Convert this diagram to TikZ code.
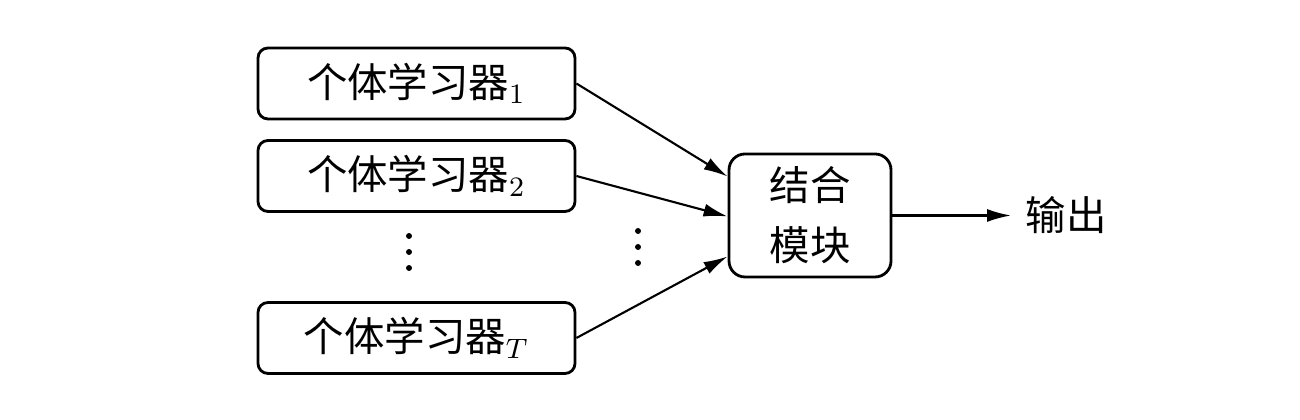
\documentclass[tikz,border=0pt]{standalone}
\usepackage{fontspec}
\newfontfamily\cjk{Noto Sans CJK SC}
\usepackage{tikz}
\usetikzlibrary{calc,arrows.meta}

\begin{document}
\begin{tikzpicture}[
    learner/.style={draw,line width=0.8pt,rounded corners=1mm,minimum width=3.17cm,minimum height=0.71cm,inner sep=0pt},
    combiner/.style={draw,line width=0.8pt,rounded corners=1.6mm,minimum width=1.62cm,minimum height=1.23cm,align=center,inner sep=0pt},
    flow/.style={line width=0.6pt,-{Latex[length=2.4mm,width=1.3mm]}},
    every node/.style={font=\fontsize{11.5}{16}\selectfont}]
    \useasboundingbox (0,0) rectangle (13,4.2);
    \def\bx{4.165}
    \foreach \y/\k in{3.365/1,2.44/2,0.82/T}{
            \node[learner](L\k) at (\bx,\y) {{\cjk 个体学习器}$_{\k}$};
        }
    \node[combiner](C) at (8.1,2.045) {{\cjk 结合}\\[1pt]{\cjk 模块}};
    \node[anchor=west,inner sep=1.4mm](out) at (10.11,2.045) {\cjk 输出};
    \coordinate (C1) at ($(C.west)+(0,0.39)$);
    \coordinate (C2) at ($(C.west)+(0,-0.01)$);
    \coordinate (C3) at ($(C.west)+(0,-0.41)$);
    \draw[flow] (L1.east)--(C1);
    \draw[flow] (L2.east)--(C2);
    \draw[flow] (LT.east)--(C3);
    \draw[flow] (C.east)--(out.west);
    \foreach \x/\y in{4.09/1.84,6.38/1.89}{
            \foreach \d in{0,0.16,0.32}{
                    \fill (\x,\y-\d) circle(0.85pt);}
        }
\end{tikzpicture}
\end{document}
